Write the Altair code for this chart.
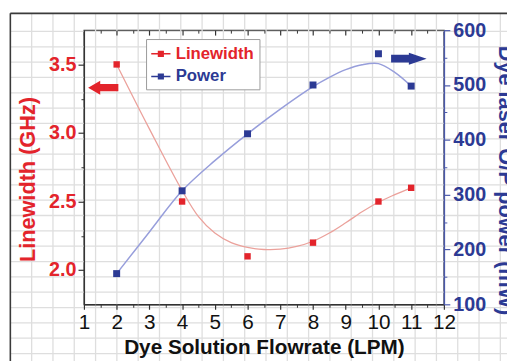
import altair as alt
import pandas as pd

# ---------------- data ----------------
flowrate = [2, 4, 6, 8, 10, 11]
linewidth_ghz = [3.5, 2.5, 2.1, 2.2, 2.5, 2.6]
power_mw = [156, 307, 411, 500, 557, 498]

# fitted (smooth) curves
lw_fit_x = [2, 3, 4, 4.5, 5, 5.5, 6, 6.5, 7, 7.5, 8, 8.5, 9, 9.5, 10, 10.5, 11]
lw_fit_y = [3.5, 3.03, 2.58, 2.39, 2.27, 2.2, 2.165, 2.15, 2.152, 2.172, 2.21, 2.27, 2.345, 2.425, 2.495, 2.55, 2.6]
pw_fit_x = [2, 3, 4, 5, 6, 7, 8, 8.5, 9, 9.5, 10, 10.5, 11]
pw_fit_y = [156, 232, 307, 362, 411, 456, 497, 514, 528, 537, 539, 523, 498]

series = ["Linewidth", "Power"]

x_ticks = [1, 2, 3, 4, 5, 6, 7, 8, 9, 10, 11, 12]
x_minor = [1.5, 2.5, 3.5, 4.5, 5.5, 6.5, 7.5, 8.5, 9.5, 10.5, 11.5]
lw_ticks = [2.0, 2.5, 3.0, 3.5]
lw_minor = [2.25, 2.75, 3.25]
pw_ticks = [100, 200, 300, 400, 500, 600]
pw_minor = [150, 250, 350, 450, 550]

# annotation arrows (data coordinates)
arrow_lw_x = [1.59]
arrow_lw_y = [3.33]
arrow_pw_x = [10.93]
arrow_pw_y = [548]

# background graph-paper grid (grid units)
grid_cols = list(range(1, 24))
grid_rows = list(range(1, 24))
border_col = [0]
border_row = [-0.18]

# ---------------- styling ----------------
F = "Liberation Sans"
RED = "#e3242b"
BLUE = "#2c3a94"
RED_LINE = "#eba19b"
BLUE_LINE = "#979edb"
AX_DARK = "#333333"
AX_BLUE = "#4a58aa"

X_SC = alt.Scale(domain=[1, 12], nice=False, zero=False)
YL_SC = alt.Scale(domain=[1.75, 3.75], nice=False, zero=False)
YR_SC = alt.Scale(domain=[100, 600], nice=False, zero=False)
GX_SC = alt.Scale(domain=[3.454, 20.35], nice=False, zero=False)
GY_SC = alt.Scale(domain=[0.916, 18.79], nice=False, zero=False, reverse=True)
COL_SC = alt.Scale(domain=series, range=[RED, BLUE])

RIGHT_ARROW = "M-1,-0.22L0,-0.22L0,-0.34L1,0L0,0.34L0,0.22L-1,0.22Z"
LEFT_ARROW = "M1,-0.24L-0.2,-0.24L-0.2,-0.46L-1,0L-0.2,0.46L-0.2,0.24L1,0.24Z"
LEG_SYM = ("M-1,-0.08L-0.32,-0.08L-0.32,-0.32L0.32,-0.32L0.32,-0.08L1,-0.08"
           "L1,0.08L0.32,0.08L0.32,0.32L-0.32,0.32L-0.32,0.08L-1,0.08Z")

LEGEND = alt.Legend(
    title=None, orient="none", legendX=63, legendY=9, padding=5,
    fillColor="white", strokeColor="#9a9a9a", zindex=2,
    symbolType=LEG_SYM, symbolSize=380, symbolStrokeWidth=0, symbolOpacity=1,
    labelFont=F, labelFontSize=17, labelFontWeight="bold", labelOffset=5,
    labelColor=alt.ExprRef(expr="datum.label === 'Linewidth' ? '%s' : '%s'" % (RED, BLUE)),
    rowPadding=5,
)


def xenc(field, axis=None):
    return alt.X(field, type="quantitative", scale=X_SC, axis=axis)


lw_df = pd.DataFrame({"flow": flowrate, "v": linewidth_ghz, "series": series[0]})
pw_df = pd.DataFrame({"flow": flowrate, "v": power_mw, "series": series[1]})

# ---------------- background grid ----------------
GRID_COLOR = "#dedede"
grid_v = alt.Chart(pd.DataFrame({"c": grid_cols})).mark_rule(color=GRID_COLOR, strokeWidth=1.3).encode(
    x=alt.X("c:Q", scale=GX_SC, axis=None),
    y=alt.YDatum(border_row[0], type="quantitative", scale=GY_SC, axis=None),
    y2=alt.Y2Datum(24),
)
grid_h = alt.Chart(pd.DataFrame({"r": grid_rows})).mark_rule(color=GRID_COLOR, strokeWidth=1.3).encode(
    y=alt.Y("r:Q", scale=GY_SC, axis=None),
    x=alt.XDatum(border_col[0], type="quantitative", scale=GX_SC, axis=None),
    x2=alt.X2Datum(24),
)
border_v = alt.Chart(pd.DataFrame({"c": border_col})).mark_rule(color="#3a3a3a", strokeWidth=1.6).encode(
    x=alt.X("c:Q", scale=GX_SC, axis=None),
    y=alt.YDatum(border_row[0], type="quantitative", scale=GY_SC, axis=None),
    y2=alt.Y2Datum(24),
)
border_h = alt.Chart(pd.DataFrame({"r": border_row})).mark_rule(color="#3a3a3a", strokeWidth=1.6).encode(
    y=alt.Y("r:Q", scale=GY_SC, axis=None),
    x=alt.XDatum(border_col[0], type="quantitative", scale=GX_SC, axis=None),
    x2=alt.X2Datum(24),
)

# ---------------- data layers ----------------
lw_line = alt.Chart(pd.DataFrame({"x": lw_fit_x, "y": lw_fit_y})).mark_line(
    color=RED_LINE, strokeWidth=1.3, interpolate="catmull-rom"
).encode(x=xenc("x"), y=alt.Y("y:Q", scale=YL_SC, axis=None))

pw_line = alt.Chart(pd.DataFrame({"x": pw_fit_x, "y": pw_fit_y})).mark_line(
    color=BLUE_LINE, strokeWidth=1.5, interpolate="catmull-rom"
).encode(x=xenc("x"), y=alt.Y("y:Q", scale=YR_SC, axis=None))

bottom_axis = alt.Axis(
    orient="bottom", values=x_ticks, tickSize=5, tickColor=AX_DARK, tickWidth=1.2,
    domainColor=AX_DARK, domainWidth=1.3, labelFont=F, labelFontSize=21,
    labelColor="#111111", labelPadding=3, labelFlush=False, labelOverlap=False,
    title="Dye Solution Flowrate (LPM)", titleFont=F, titleFontSize=21,
    titleFontWeight="bold", titleColor="#111111", titlePadding=4, grid=False, zindex=1,
)
left_axis = alt.Axis(
    orient="left", values=lw_ticks, format=".1f", tickSize=6, tickColor=AX_DARK, tickWidth=1.2,
    domainColor=AX_DARK, domainWidth=1.3, labelFont=F, labelFontSize=20, labelFontWeight="bold",
    labelColor=RED, labelPadding=2, title="Linewidth (GHz)", titleFont=F, titleFontSize=22,
    titleFontWeight="bold", titleColor=RED, titlePadding=9, titleY=151, grid=False, zindex=1,
)
right_axis = alt.Axis(
    orient="right", values=pw_ticks, tickSize=6, tickColor=AX_BLUE, tickWidth=1.2,
    domainColor=AX_BLUE, domainWidth=1.5, labelFont=F, labelFontSize=20, labelFontWeight="bold",
    labelColor=BLUE, labelPadding=3, title="Dye laser O/P power (mW)", titleFont=F,
    titleFontSize=22, titleFontWeight="bold", titleColor=BLUE, titlePadding=8, titleY=152,
    grid=False, zindex=1,
)

lw_pts = alt.Chart(lw_df).mark_square(size=42, opacity=1).encode(
    x=xenc("flow", bottom_axis),
    y=alt.Y("v:Q", scale=YL_SC, axis=left_axis),
    color=alt.Color("series:N", scale=COL_SC, legend=LEGEND),
)
pw_pts = alt.Chart(pw_df).mark_square(size=50, opacity=1).encode(
    x=xenc("flow"),
    y=alt.Y("v:Q", scale=YR_SC, axis=right_axis),
    color=alt.Color("series:N", scale=COL_SC, legend=LEGEND),
)

# ---------------- extra tick layers (minor / top ticks) ----------------
def tick_layer_x(values, axis):
    return alt.Chart(pd.DataFrame({"v": values})).mark_point(opacity=0).encode(x=xenc("v", axis))


def tick_layer_y(values, scale, axis):
    return alt.Chart(pd.DataFrame({"v": values})).mark_point(opacity=0).encode(
        y=alt.Y("v:Q", scale=scale, axis=axis))


bottom_minor = tick_layer_x(x_minor, alt.Axis(orient="bottom", values=x_minor, tickSize=3, tickColor=AX_DARK,
                                              labels=False, domain=False, title=None, grid=False, zindex=1))
top_major = tick_layer_x(x_ticks, alt.Axis(orient="top", values=x_ticks, tickSize=5, offset=-5, tickColor=AX_DARK,
                                           tickWidth=1.2, labels=False, domain=False, title=None, grid=False,
                                           zindex=1))
top_minor = tick_layer_x(x_minor, alt.Axis(orient="top", values=x_minor, tickSize=3, offset=-3, tickColor=AX_DARK,
                                           labels=False, domain=False, title=None, grid=False, zindex=1))
left_minor = tick_layer_y(lw_minor, YL_SC, alt.Axis(orient="left", values=lw_minor, tickSize=3, tickColor=AX_DARK,
                                                    labels=False, domain=False, title=None, grid=False, zindex=1))
right_minor = tick_layer_y(pw_minor, YR_SC, alt.Axis(orient="right", values=pw_minor, tickSize=3, tickColor=AX_BLUE,
                                                     labels=False, domain=False, title=None, grid=False, zindex=1))

# ---------------- arrows ----------------
arr_lw = alt.Chart(pd.DataFrame({"x": arrow_lw_x, "y": arrow_lw_y})).mark_point(
    shape=LEFT_ARROW, size=940, filled=True, color=RED, opacity=1, strokeWidth=0
).encode(x=xenc("x"), y=alt.Y("y:Q", scale=YL_SC, axis=None))
arr_pw = alt.Chart(pd.DataFrame({"x": arrow_pw_x, "y": arrow_pw_y})).mark_point(
    shape=RIGHT_ARROW, size=1300, filled=True, color=BLUE, opacity=1, strokeWidth=0
).encode(x=xenc("x"), y=alt.Y("y:Q", scale=YR_SC, axis=None))

chart = alt.layer(
    grid_v, grid_h, border_v, border_h,
    lw_line, pw_line, lw_pts, pw_pts,
    bottom_minor, top_major, top_minor, left_minor, right_minor,
    arr_lw, arr_pw,
).resolve_scale(
    x="independent", y="independent"
).properties(
    width=365, height=278,
    padding={"left": 77, "top": 20, "right": 64, "bottom": 55},
    autosize=alt.AutoSizeParams(type="none"),
    background="white",
).configure_view(
    stroke=AX_DARK, strokeWidth=1.3
)

chart.save("out.html", embed_options={"renderer": "svg", "actions": False})
